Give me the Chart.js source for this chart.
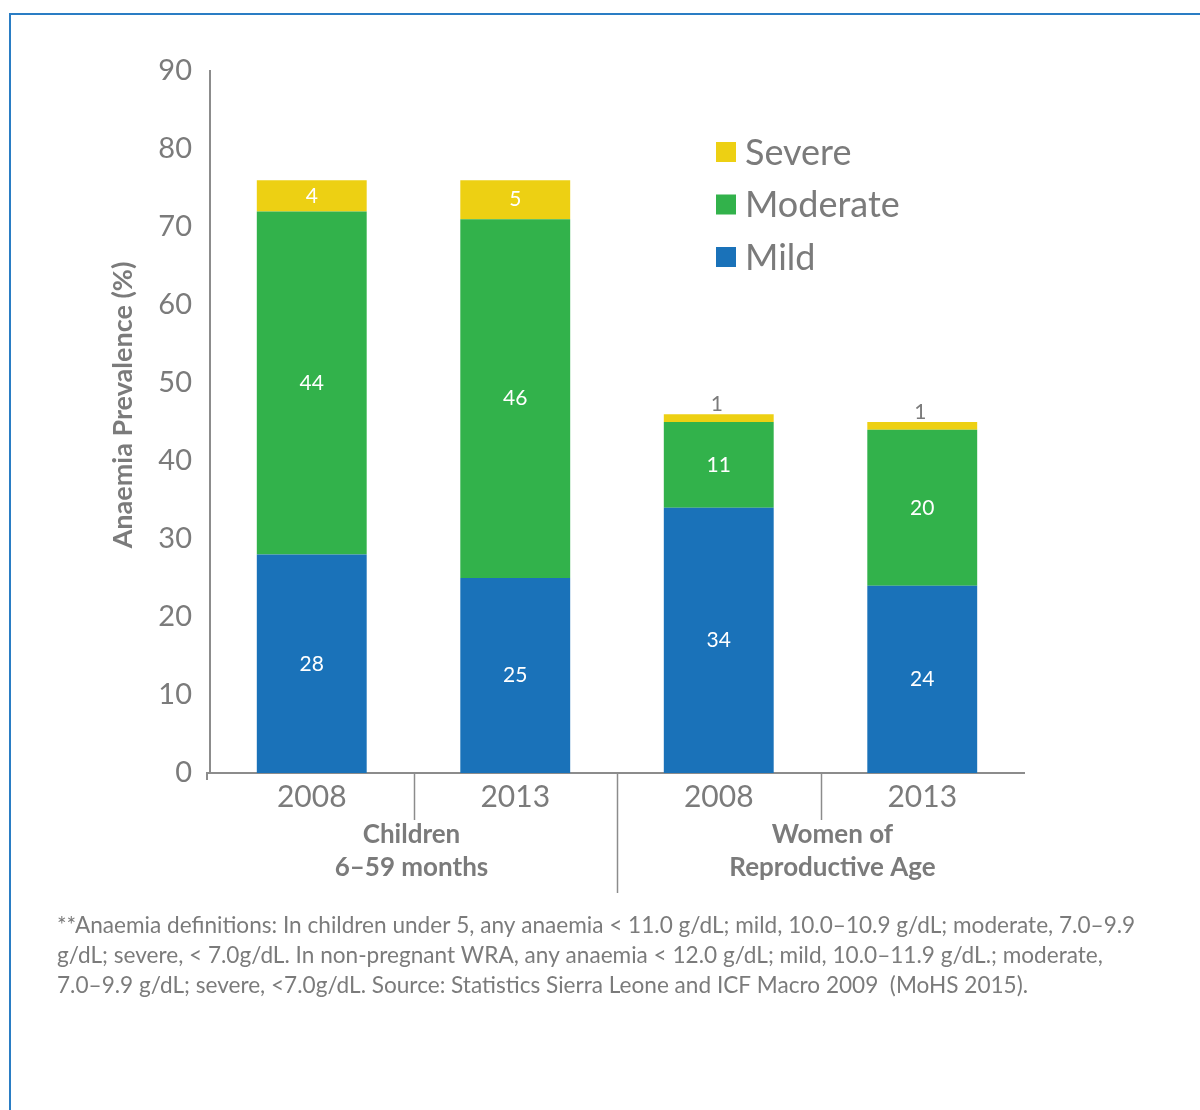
<!DOCTYPE html>
<html>
<head>
<meta charset="utf-8">
<script src="https://cdn.jsdelivr.net/npm/chart.js@4.4.1/dist/chart.umd.min.js"></script>
<style>
  html, body { margin: 0; padding: 0; background: #ffffff; }
  #wrap { width: 1200px; height: 1110px; }
</style>
</head>
<body>
<div id="wrap"><canvas id="chart" width="1200" height="1110"></canvas></div>
<script>
// Anaemia prevalence by severity, Sierra Leone DHS rounds
const categories = ['2008', '2013', '2008', '2013'];
const groupLabels = [['Children', '6–59 months'], ['Women of', 'Reproductive Age']];
const mild = [28, 25, 34, 24];
const moderate = [44, 46, 11, 20];
const severe = [4, 5, 1, 1];
const yMin = 0;
const yMax = 90;
const yStep = 10;
const yTitle = 'Anaemia Prevalence (%)';
const footnoteLines = [
  '**Anaemia definitions: In children under 5, any anaemia < 11.0 g/dL; mild, 10.0–10.9 g/dL; moderate, 7.0–9.9',
  'g/dL; severe, < 7.0g/dL. In non-pregnant WRA, any anaemia < 12.0 g/dL; mild, 10.0–11.9 g/dL.; moderate,',
  '7.0–9.9 g/dL; severe, <7.0g/dL. Source: Statistics Sierra Leone and ICF Macro 2009  (MoHS 2015).'
];

const FONT = 'Lato, "Open Sans", sans-serif';
const GREY = '#7b7b7b';
const AXIS = '#8c8c8c';
const FRAME = '#2a7dc4';

// Frame, axis extras, group labels, value labels, legend and footnote
const decorations = {
  id: 'decorations',
  beforeDraw(chart) {
    const ctx = chart.ctx;
    ctx.save();
    ctx.strokeStyle = FRAME;
    ctx.lineWidth = 2;
    ctx.beginPath();
    ctx.moveTo(9, 14); ctx.lineTo(1200, 14);
    ctx.moveTo(10, 14); ctx.lineTo(10, 1110);
    ctx.stroke();
    ctx.restore();
  },
  afterDraw(chart) {
    const ctx = chart.ctx;
    const area = chart.chartArea;
    const x = chart.scales.x;
    ctx.save();

    // axis stub to the left of the origin, and category separators
    ctx.strokeStyle = AXIS;
    ctx.lineWidth = 2;
    ctx.beginPath();
    ctx.moveTo(area.left - 4, area.bottom); ctx.lineTo(area.left, area.bottom);
    ctx.moveTo(area.left - 3, area.bottom); ctx.lineTo(area.left - 3, area.bottom + 7);
    ctx.stroke();
    ctx.lineWidth = 1.5;
    for (let i = 0; i < categories.length - 1; i++) {
      const px = Math.round((x.getPixelForValue(i) + x.getPixelForValue(i + 1)) / 2) + 0.5;
      const len = (i % 2 === 1) ? 120 : 47;
      ctx.beginPath();
      ctx.moveTo(px, area.bottom);
      ctx.lineTo(px, area.bottom + len);
      ctx.stroke();
    }

    // group labels under the year ticks
    ctx.fillStyle = GREY;
    ctx.font = 'bold 26px ' + FONT;
    ctx.textAlign = 'center';
    ctx.textBaseline = 'middle';
    const groupShift = [-2, 12];
    groupLabels.forEach((lines, g) => {
      const cx = (x.getPixelForValue(g * 2) + x.getPixelForValue(g * 2 + 1)) / 2 + groupShift[g];
      lines.forEach((t, k) => ctx.fillText(t, cx, area.bottom + 62 + k * 33));
    });

    // y axis title
    ctx.save();
    ctx.translate(123, (area.top + area.bottom) / 2 - 17);
    ctx.rotate(-Math.PI / 2);
    ctx.font = 'bold 27px ' + FONT;
    ctx.fillText(yTitle, 0, 0);
    ctx.restore();

    // value labels on each segment
    ctx.font = '21px ' + FONT;
    chart.data.datasets.forEach((ds, di) => {
      const meta = chart.getDatasetMeta(di);
      meta.data.forEach((bar, i) => {
        const v = ds.data[i];
        const h = Math.abs(bar.base - bar.y);
        if (h < 24) {
          ctx.fillStyle = GREY;
          ctx.textBaseline = 'bottom';
          ctx.fillText(String(v), bar.x - 2, bar.y + 1);
        } else {
          ctx.fillStyle = '#ffffff';
          ctx.textBaseline = 'middle';
          ctx.fillText(String(v), bar.x, (bar.y + bar.base) / 2);
        }
      });
    });

    // legend, top series first
    ctx.textAlign = 'left';
    ctx.textBaseline = 'middle';
    ctx.font = '36px ' + FONT;
    const legendX = area.left + 506;
    const legendY = area.top + 81;
    const order = chart.data.datasets.map((d, i) => i).reverse();
    order.forEach((di, row) => {
      const ds = chart.data.datasets[di];
      const cy = legendY + row * 52.5;
      ctx.fillStyle = ds.backgroundColor;
      ctx.fillRect(legendX, cy - 10, 20, 20);
      ctx.fillStyle = GREY;
      ctx.fillText(ds.label, legendX + 29, cy + 1);
    });

    // footnote
    ctx.font = '22.6px ' + FONT;
    ctx.fillStyle = GREY;
    footnoteLines.forEach((t, k) => ctx.fillText(t, 57, 926 + k * 30));

    ctx.restore();
  }
};

new Chart(document.getElementById('chart'), {
  type: 'bar',
  data: {
    labels: categories,
    datasets: [
      { label: 'Mild', data: mild, backgroundColor: '#1a72b9' },
      { label: 'Moderate', data: moderate, backgroundColor: '#32b24b' },
      { label: 'Severe', data: severe, backgroundColor: '#edd013' }
    ]
  },
  options: {
    responsive: false,
    animation: false,
    layout: { padding: { top: 71, right: 176, bottom: 0, left: 0 } },
    datasets: { bar: { categoryPercentage: 1, barPercentage: 0.54 } },
    plugins: { legend: { display: false }, tooltip: { enabled: false } },
    scales: {
      x: {
        stacked: true,
        offset: true,
        grid: { display: false, drawTicks: false },
        border: { display: true, color: AXIS, width: 2 },
        ticks: { color: GREY, font: { family: FONT, size: 30 }, padding: 6 },
        afterFit(s) { s.height = 1110 - 773; }
      },
      y: {
        stacked: true,
        min: yMin,
        max: yMax,
        grid: { display: false, drawTicks: false },
        border: { display: true, color: AXIS, width: 2 },
        ticks: { stepSize: yStep, color: GREY, font: { family: FONT, size: 29 }, padding: 18 },
        afterFit(s) { s.width = 210; }
      }
    }
  },
  plugins: [decorations]
});
</script>
</body>
</html>
